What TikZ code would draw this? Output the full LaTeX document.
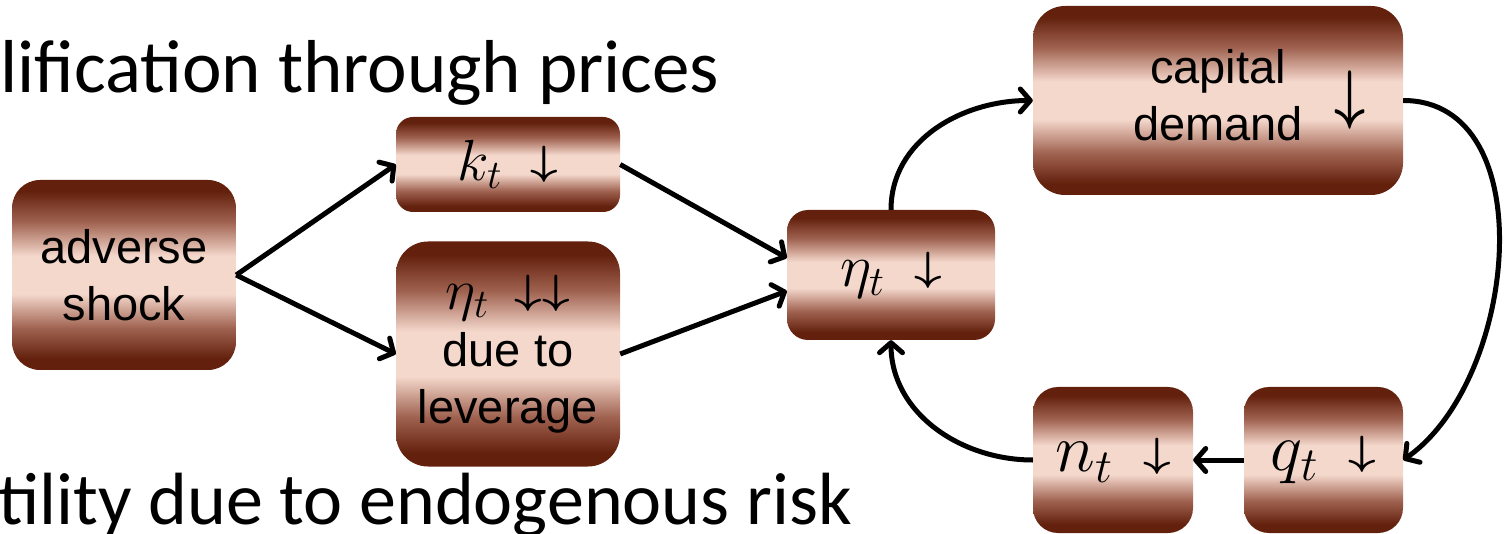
\RequirePackage{fix-cm}
\documentclass[tikz,border=0pt]{standalone}
\usepackage{amsmath}
\usepackage{graphicx}
\usepackage{fontspec}
\setmainfont{Liberation Sans}
\newfontfamily\headfont{Carlito}
\definecolor{browndark}{RGB}{99, 33, 13}
\definecolor{brownmid}{RGB}{160, 98, 80}
\definecolor{brownlight}{RGB}{244, 216, 204}
\usetikzlibrary{arrows.meta, positioning}

\pgfdeclareverticalshading{brownglow}{100bp}{color(0bp)=(browndark); color(28bp)=(browndark); color(36bp)=(brownmid); color(45bp)=(brownlight); color(55bp)=(brownlight); color(64bp)=(brownmid); color(72bp)=(browndark); color(100bp)=(browndark)}

\newcommand{\dnarrow}{{\fontsize{48}{48}\selectfont\raisebox{0.12em}{\scalebox{1}[0.85]{$\boldsymbol{\downarrow}$}}}}
\newcommand{\mathsz}[1]{\fontsize{#1}{#1}\selectfont}

\tikzset{
  brownbox/.style={shading=brownglow, inner sep=0pt, align=center,
    font=\fontsize{47}{57}\selectfont},
  flowarrow/.style={line width=5pt, -{Straight Barb[length=10pt,width=23pt,round]}},
  headline/.style={anchor=base west, inner sep=0pt,
    font=\headfont\fontsize{75}{80}\selectfont},
}

\begin{document}
\begin{tikzpicture}[x=1pt, y=1pt]
    \useasboundingbox (0,0) rectangle (1510,-534);
    \clip (0,0) rectangle (1510,-534);

    % slide titles
    \node[headline] (headtop) at (0,-93) {lification through prices};
    \node[headline, font=\headfont\fontsize{74}{80}\selectfont]
        (headbottom) at (-2,-524) {tility due to endogenous risk};

    % boxes
    \node[brownbox, minimum width=224pt, minimum height=190pt, rounded corners=28pt]
        (shock) at (124,-275) {adverse\\shock};
    \node[brownbox, minimum width=224pt, minimum height=95pt, rounded corners=17pt]
        (capk) at (508,-164.5) {\mathsz{58}$k_t$\hspace{0.5em}\dnarrow};
    \node[brownbox, minimum width=224pt, minimum height=225pt, rounded corners=32pt]
        (etalev) at (508,-354) {{\mathsz{58}$\eta_t$\hspace{0.45em}\dnarrow\dnarrow}\\due to\\leverage};
    \node[brownbox, minimum width=208pt, minimum height=130pt, rounded corners=21pt]
        (eta) at (891,-275) {\mathsz{60}$\eta_t$\hspace{0.5em}\dnarrow};
    \node[brownbox, minimum width=370pt, minimum height=189pt, rounded corners=32pt]
        (capdem) at (1218,-100.5)
        {\begin{tabular}{@{}c@{}}capital\\demand\end{tabular}\rlap{\hspace{32pt}\raisebox{-4pt}{\scalebox{1.15}[1.4]{$\boldsymbol{\downarrow}$}}}};
    \node[brownbox, minimum width=159pt, minimum height=146pt, rounded corners=25pt]
        (qt) at (1323.5,-460) {\mathsz{68}$q_t$\hspace{0.45em}\dnarrow};
    \node[brownbox, minimum width=160pt, minimum height=146pt, rounded corners=25pt]
        (nt) at (1113,-460) {\mathsz{68}$n_t$\hspace{0.45em}\dnarrow};

    % connectors
    \draw[flowarrow] (shock.east) -- (capk.west);
    \draw[flowarrow] (shock.east) -- (etalev.west);
    \draw[flowarrow] (capk.east) -- ([yshift=17pt]eta.west);
    \draw[flowarrow] (etalev.east) -- ([yshift=-16pt]eta.west);
    \draw[flowarrow] (eta.north) to[out=90, in=180] (capdem.west);
    \draw[flowarrow] (capdem.east) to[out=0, in=35] (qt.east);
    \draw[flowarrow] (qt.west) -- (nt.east);
    \draw[flowarrow] (nt.west) to[out=180, in=-90] (eta.south);
\end{tikzpicture}
\end{document}
